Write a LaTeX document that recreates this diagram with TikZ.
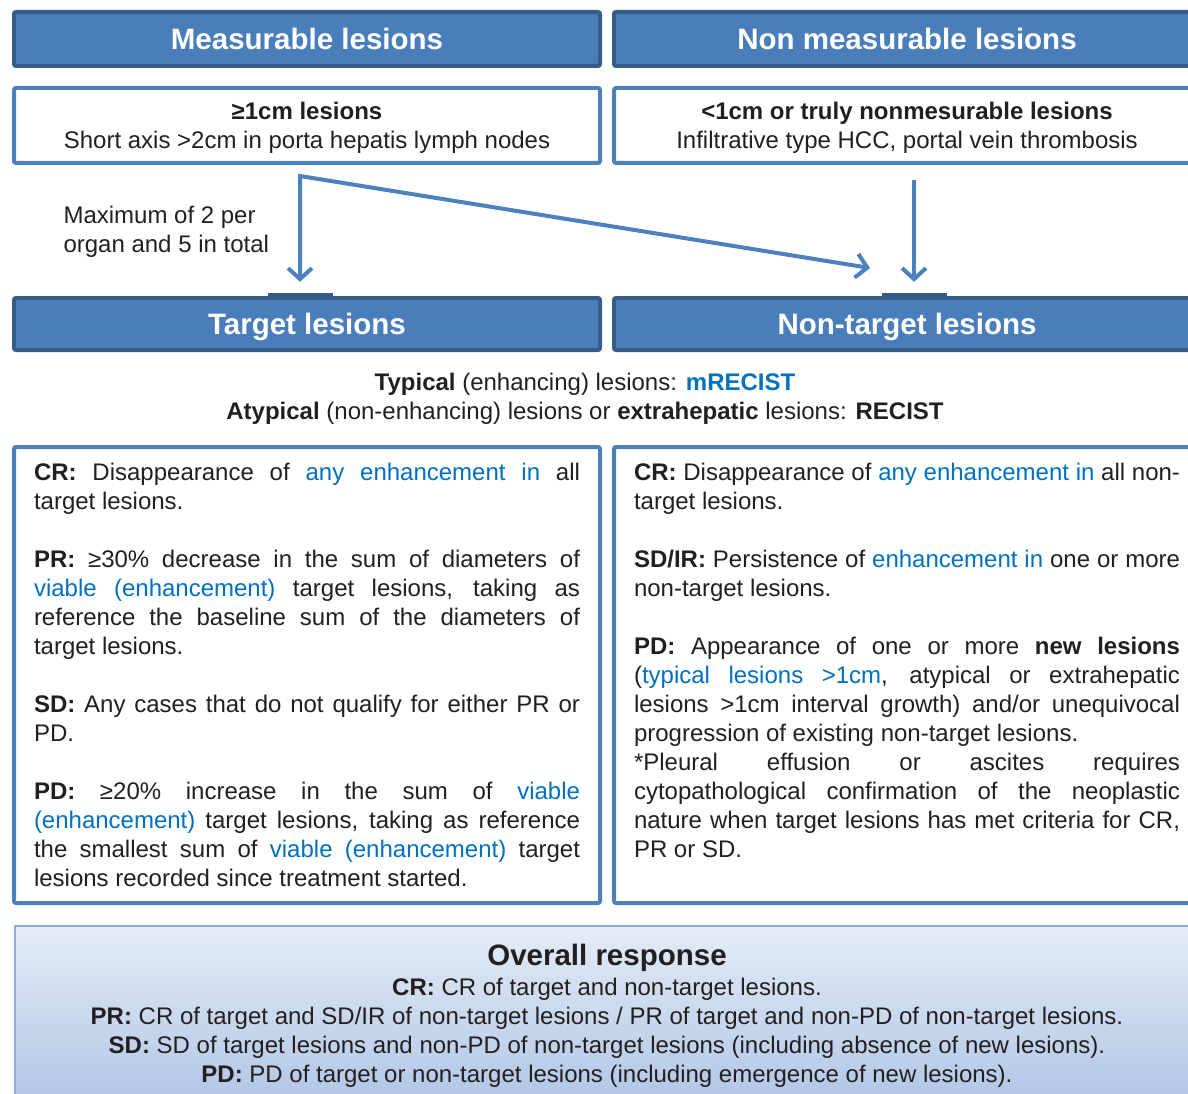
\documentclass[tikz,border=0pt]{standalone}
\usepackage{fontspec}
\setmainfont{Liberation Sans}
\usepackage{tikz}
\usetikzlibrary{positioning, arrows.meta, calc}
\definecolor{hdrblue}{RGB}{74,126,187}
\definecolor{hdredge}{RGB}{54,92,138}
\definecolor{boxblue}{RGB}{76,128,190}
\definecolor{hilite}{RGB}{0,112,192}
\definecolor{ortop}{RGB}{228,236,247}
\definecolor{orbot}{RGB}{174,196,229}
\definecolor{oredge}{RGB}{140,172,212}
\definecolor{ink}{RGB}{35,31,32}
\newcommand{\blu}[1]{\textcolor{hilite}{#1}}
\newcommand{\bodyfont}{\fontsize{24}{29}\selectfont\parskip=29pt\parindent=0pt}
\newcommand{\headfont}{\fontsize{29.5}{35}\selectfont\bfseries}
\tikzset{
    >={Straight Barb[length=11pt,width=24pt]},
    hdr/.style={rectangle, draw=hdredge, fill=hdrblue, line width=4pt, rounded corners=2pt, minimum width=586pt, minimum height=54pt, text height=21pt, text depth=0pt, text=white, font=\headfont},
    sub/.style={rectangle, draw=boxblue, fill=white, line width=4pt, rounded corners=2pt, minimum width=586pt, minimum height=75pt, text depth=0pt, align=center, text=ink, font=\bodyfont},
    lesion/.style={rectangle, draw=hdredge, fill=hdrblue, line width=4pt, rounded corners=2pt, minimum width=586pt, minimum height=52pt, text height=21pt, text depth=0pt, text=white, font=\headfont},
    crit/.style={rectangle, draw=boxblue, fill=white, line width=4pt, rounded corners=2pt, minimum width=586pt, minimum height=456pt},
    crittext/.style={anchor=north, text width=546pt, align=justify, inner sep=0pt, text=ink, font=\bodyfont},
    bar/.style={rectangle, fill=hdredge, inner sep=0pt, minimum width=65pt, minimum height=5pt},
    overall/.style={rectangle, draw=oredge, top color=ortop, bottom color=orbot, line width=2pt, minimum width=1184pt, minimum height=184pt},
    arr/.style={draw=boxblue, line width=4pt, ->},
}
\begin{document}
\begin{tikzpicture}[x=1pt, y=-1pt]
    \useasboundingbox (0,0) rectangle (1188,1094);
    \node [hdr] (meas) at (307,39) {Measurable lesions};
    \node [hdr] (nonmeas) at (907,39) {Non measurable lesions};
    \node [sub] (msub) at (307,125.5) {\textbf{≥1cm lesions}\\Short axis >2cm in porta hepatis lymph nodes};
    \node [sub] (nsub) at (907,125.5) {\textbf{<1cm or truly nonmesurable lesions}\\Infiltrative type HCC, portal vein thrombosis};
    \node [lesion] (target) at (307,324) {Target lesions};
    \node [lesion] (nontarget) at (907,324) {Non-target lesions};
    \node [bar] (tbar) at (300,295.5) {};
    \node [bar] (nbar) at (914,295.5) {};
    \node [font=\bodyfont, align=left, text=ink, anchor=west] (maxnote) at (60,232) {Maximum of 2 per\\organ and 5 in total};
    \coordinate (split) at (300,176);
    \coordinate (diagend) at (870,268);
    \draw[arr, <->, shorten >=11pt] (diagend) -- (split) -- (tbar.north);
    \draw[arr, shorten <=15pt, shorten >=11pt] (nbar.north |- nsub.south) -- (nbar.north);
    \node [font=\bodyfont, align=center, text=ink] (scheme) at (585,399) {\textbf{Typical} (enhancing) lesions: \textbf{\blu{mRECIST}}\\\textbf{Atypical} (non-enhancing) lesions or \textbf{extrahepatic} lesions: \textbf{RECIST}};
    \node [crit] (tcrit) at (307,675) {};
    \node [crit] (ncrit) at (907,675) {};
    \node [crittext] (ttext) at (307,463) {\textbf{CR:} Disappearance of \blu{any enhancement in} all\linebreak target lesions.\par
        \textbf{PR:} ≥30\% decrease in the sum of diameters of\linebreak \blu{viable (enhancement)} target lesions, taking as\linebreak reference the baseline sum of the diameters of\linebreak target lesions.\par
        \textbf{SD:} Any cases that do not qualify for either PR or\linebreak PD.\par
        \textbf{PD:} ≥20\% increase in the sum of \blu{viable}\linebreak \blu{(enhancement)} target lesions, taking as reference\linebreak the smallest sum of \blu{viable (enhancement)} target\linebreak lesions recorded since treatment started.};
    \node [crittext] (ntext) at (907,463) {\textbf{CR:} Disappearance of \blu{any enhancement in} all non-\linebreak target lesions.\par
        \textbf{SD/IR:} Persistence of \blu{enhancement in} one or more\linebreak non-target lesions.\par
        \textbf{PD:} Appearance of one or more \textbf{new lesions}\linebreak (\blu{typical lesions >1cm}, atypical or extrahepatic\linebreak lesions >1cm interval growth) and/or unequivocal\linebreak progression of existing non-target lesions.\newline
        *Pleural effusion or ascites requires\linebreak cytopathological confirmation of the neoplastic\linebreak nature when target lesions has met criteria for CR,\linebreak PR or SD.};
    \node [overall] (ovbox) at (607,1018) {};
    \node [font=\headfont, text=ink] (ovtitle) at (607,958) {Overall response};
    \node [font=\bodyfont, align=center, text=ink] (ovbody) at (607,1033) {\textbf{CR:} CR of target and non-target lesions.\\
        \textbf{PR:} CR of target and SD/IR of non-target lesions / PR of target and non-PD of non-target lesions.\\
        \textbf{SD:} SD of target lesions and non-PD of non-target lesions (including absence of new lesions).\\
        \textbf{PD:} PD of target or non-target lesions (including emergence of new lesions).};
\end{tikzpicture}
\end{document}
